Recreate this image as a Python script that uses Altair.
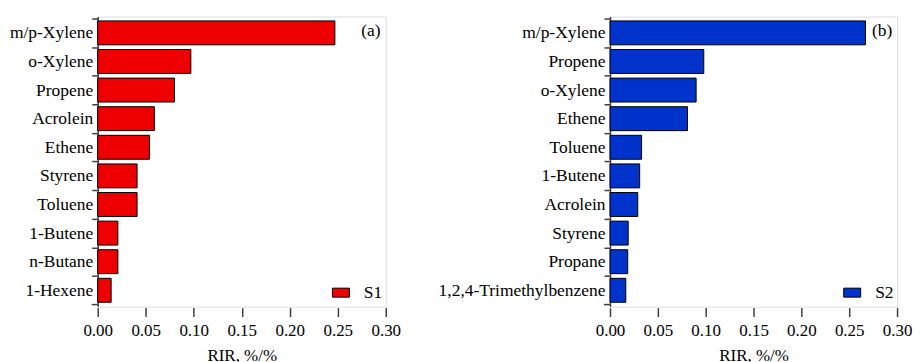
import altair as alt
import pandas as pd

cats_a = ["m/p-Xylene", "o-Xylene", "Propene", "Acrolein", "Ethene", "Styrene",
          "Toluene", "1-Butene", "n-Butane", "1-Hexene"]
vals_a = [0.247, 0.097, 0.080, 0.059, 0.054, 0.041, 0.041, 0.021, 0.021, 0.014]

cats_b = ["m/p-Xylene", "Propene", "o-Xylene", "Ethene", "Toluene", "1-Butene",
          "Acrolein", "Styrene", "Propane", "1,2,4-Trimethylbenzene"]
vals_b = [0.267, 0.098, 0.090, 0.081, 0.033, 0.031, 0.029, 0.019, 0.0185, 0.0165]

x_ticks = [0.0, 0.05, 0.10, 0.15, 0.20, 0.25, 0.30]

FONT = "Liberation Serif"
FS_Y = 17.5
FS_X = 17
FRAME = "#404040"
H = 291
P_IN, P_OUT = 0.164, 0.152
STEP = H / (10 - P_IN + 2 * P_OUT)
HALF = STEP / 2
BOTTOM_TICK = STEP * (P_OUT + 10 - P_IN / 2)


def panel(cats, vals, series, color, tag, extent, width):
    df = pd.DataFrame({"cat": cats, "val": vals, "series": series})
    bars = alt.Chart(df).mark_bar(stroke="black", strokeWidth=1).encode(
        y=alt.Y(
            "cat:N", sort=cats,
            scale=alt.Scale(paddingInner=P_IN, paddingOuter=P_OUT),
            axis=alt.Axis(title=None, tickSize=6, labelPadding=-1,
                          tickOffset=-HALF, labelOffset=HALF,
                          minExtent=extent, maxExtent=extent, labelFont=FONT,
                          labelFontSize=FS_Y, labelColor="black", tickColor=FRAME,
                          domainColor=FRAME, domainWidth=1.5, tickWidth=1.5),
        ),
        x=alt.X(
            "val:Q", scale=alt.Scale(domain=[0, 0.3], nice=False, zero=True),
            axis=alt.Axis(title="RIR, %/%", values=x_ticks, format=".2f", grid=False,
                          domain=False, tickSize=9, offset=1, labelFlush=False,
                          labelFont=FONT, labelFontSize=FS_X, labelColor="black",
                          labelPadding=6, tickColor=FRAME, tickWidth=1.5,
                          titleFont=FONT, titleFontSize=FS_X, titleFontWeight="normal",
                          titleColor="black", titlePadding=9),
        ),
        color=alt.Color(
            "series:N", scale=alt.Scale(domain=[series], range=[color]),
            legend=alt.Legend(orient="none", legendX=width - 54, legendY=268, title=None,
                              symbolType="M-1,-0.53H1V0.53H-1Z", symbolSize=289,
                              symbolStrokeColor="black", symbolStrokeWidth=1,
                              symbolOpacity=1, labelFont=FONT, labelFontSize=FS_Y,
                              labelColor="black", labelOffset=14, padding=0),
        ),
    )
    tag_df = pd.DataFrame({"tag": [tag]})
    label = alt.Chart(tag_df).mark_text(font=FONT, fontSize=FS_Y, color="black",
                                        align="center", baseline="middle").encode(
        text="tag:N", x=alt.value(width - 15), y=alt.value(15)
    )
    last_tick = alt.Chart(tag_df).mark_rule(color=FRAME, strokeWidth=1.5).encode(
        x=alt.value(-6), x2=alt.value(0), y=alt.value(BOTTOM_TICK)
    )
    return alt.layer(bars, label, last_tick).properties(width=width, height=H)


left = panel(cats_a, vals_a, "S1", "#EE0000", "(a)", 89, 289)
right = panel(cats_b, vals_b, "S2", "#0033CC", "(b)", 175, 288)

chart = alt.hconcat(left, right, spacing=33).resolve_scale(
    color="independent"
).resolve_legend(color="independent").properties(
    padding={"top": 7, "left": 0, "right": 0, "bottom": 0}
).configure_view(stroke=FRAME, strokeWidth=1.5).configure(background="white")

chart.save("out.html", embed_options={"renderer": "svg", "actions": False})
